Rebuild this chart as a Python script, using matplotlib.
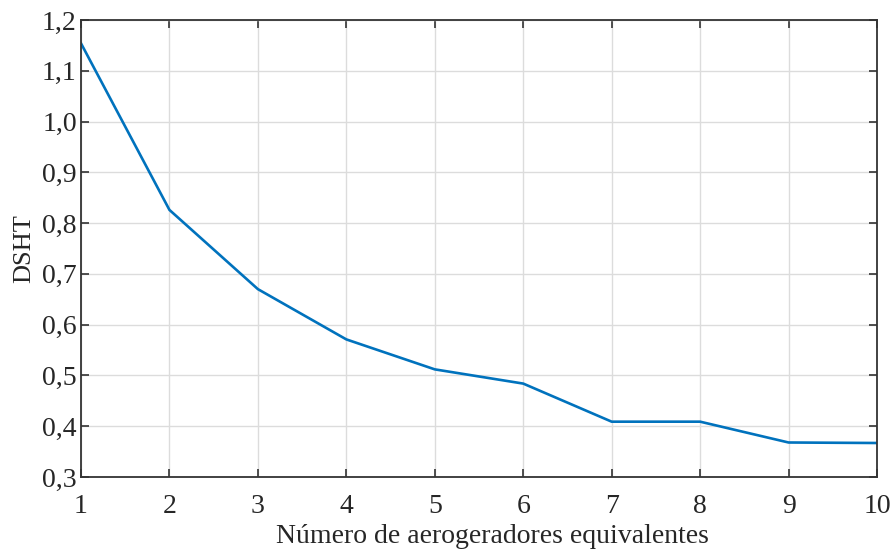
import matplotlib
matplotlib.use("Agg")
import matplotlib.pyplot as plt
from matplotlib.ticker import FuncFormatter

# Number of equivalent wind turbines vs. DSHT
n_turbines = [1, 2, 3, 4, 5, 6, 7, 8, 9, 10]
dsht = [1.154, 0.826, 0.670, 0.571, 0.512, 0.484, 0.409, 0.409, 0.368, 0.367]

x_ticks = list(range(1, 11))
y_ticks = [0.3, 0.4, 0.5, 0.6, 0.7, 0.8, 0.9, 1.0, 1.1, 1.2]

plt.rcParams['font.family'] = ['Liberation Serif', 'DejaVu Serif']

fig = plt.figure(figsize=(8.94, 5.49), dpi=100)
ax = fig.add_axes([0.0906, 0.1311, 0.8904, 0.8325])

ax.plot(n_turbines, dsht, color='#0072BD', linewidth=1.9)

ax.set_xlim(1, 10)
ax.set_ylim(0.3, 1.2)
ax.set_xticks(x_ticks)
ax.set_yticks(y_ticks)
ax.yaxis.set_major_formatter(FuncFormatter(lambda v, p: f"{v:.1f}".replace('.', ',')))

ax.grid(True, color='#dcdcdc', linewidth=1.0)
ax.set_axisbelow(True)

for s in ax.spines.values():
    s.set_color('#333333')
    s.set_linewidth(1.3)

ax.tick_params(axis='both', direction='in', length=6, width=1.2, color='#333333',
               labelsize=20, labelcolor='#262626', top=True, right=True)
ax.tick_params(axis='x', pad=12)
ax.tick_params(axis='y', pad=3)

ax.set_xlabel('Número de aerogeradores equivalentes', fontsize=20, color='#262626', labelpad=4)
ax.xaxis.set_label_coords(0.517, -0.103)
ax.set_ylabel('DSHT', fontsize=19, color='#262626', labelpad=5)

fig.savefig('out.png', dpi=100)
